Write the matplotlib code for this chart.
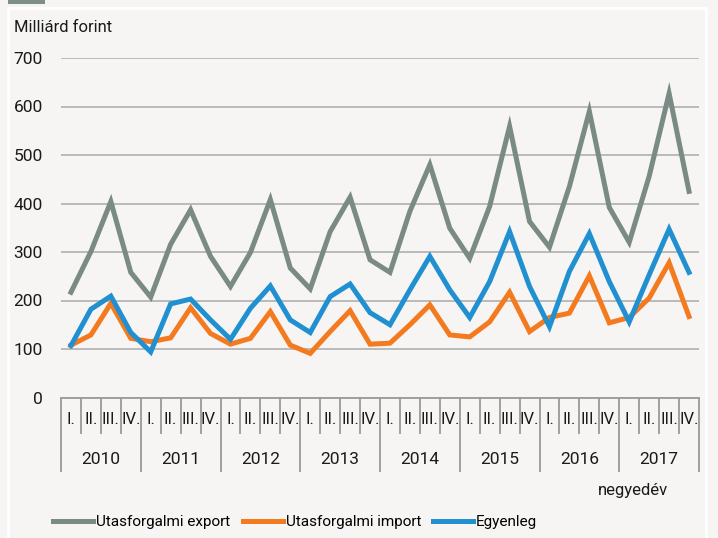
import matplotlib
matplotlib.use("Agg")
import matplotlib.pyplot as plt
from matplotlib.lines import Line2D
from matplotlib.patches import Rectangle

years = ["2010", "2011", "2012", "2013", "2014", "2015", "2016", "2017"]
quarters = ["I.", "II.", "III.", "IV."]

export = [217, 301, 404, 258, 207, 316, 387, 291,
          229, 299, 408, 267, 224, 342, 413, 284,
          258, 384, 480, 349, 287, 394, 559, 363,
          310, 435, 590, 392, 320, 456, 627, 425]
imports = [108, 129, 194, 122, 115, 123, 185, 132,
           110, 122, 177, 108, 91, 136, 179, 110,
           112, 150, 191, 129, 125, 156, 217, 136,
           165, 174, 251, 154, 165, 205, 278, 167]
balance = [107, 182, 209, 134, 94, 193, 203, 160,
           120, 184, 230, 160, 134, 208, 234, 175,
           150, 222, 291, 222, 165, 239, 342, 229,
           146, 260, 338, 239, 156, 253, 347, 258]
labels = ["Utasforgalmi export", "Utasforgalmi import", "Egyenleg"]

plt.rcParams['font.family'] = ['Roboto', 'DejaVu Sans']

W, H = 718, 538
bg = "#f6f5f3"
fig = plt.figure(figsize=(W / 100, H / 100), dpi=100, facecolor=bg)

# frame
fig.patches.append(Rectangle((8 / W, -0.01), (706 - 8) / W, 1 - 8 / H + 0.01,
                             transform=fig.transFigure, fill=False,
                             edgecolor="white", linewidth=2))
fig.patches.append(Rectangle((8 / W, 1 - 4 / H), 37 / W, 4 / H,
                             transform=fig.transFigure, facecolor="#7d8f87",
                             edgecolor="none"))

left, right = 61 / W, 699 / W
bottom, top = 1 - 397.5 / H, 1 - 58 / H
ax = fig.add_axes([left, bottom, right - left, top - bottom])
ax.set_facecolor(bg)

n = len(export)
x = list(range(n))
c_exp, c_imp, c_bal = "#7a8a84", "#f47a20", "#2190d0"
lw = 3.6
l1, = ax.plot(x, export, color=c_exp, lw=lw, solid_joinstyle="miter", zorder=3)
l2, = ax.plot(x, imports, color=c_imp, lw=lw, solid_joinstyle="miter", zorder=4)
l3, = ax.plot(x, balance, color=c_bal, lw=lw, solid_joinstyle="miter", zorder=5)

ax.set_xlim(-0.5, n - 0.5)
ax.set_ylim(0, 700)
ax.set_yticks(range(0, 701, 100))
ax.tick_params(axis="y", length=0, pad=13, labelsize=12.5, labelcolor="#1a1a1a")
for s in ["top", "right", "left"]:
    ax.spines[s].set_visible(False)
ax.spines["bottom"].set_color("#9a9a9a")
ax.spines["bottom"].set_linewidth(1.3)
ax.grid(axis="y", color="#b5b5b5", linewidth=1.3)
ax.set_axisbelow(True)

# x-axis: quarter separators (short) and year separators (long)
ax.set_xticks([k - 0.5 for k in range(n + 1) if k % 4 == 0])
ax.set_xticks([k - 0.5 for k in range(n + 1) if k % 4 != 0], minor=True)
ax.tick_params(axis="x", which="major", length=53.5, width=1.3, color="#9a9a9a",
               labelbottom=False)
ax.tick_params(axis="x", which="minor", length=26, width=1.3, color="#9a9a9a",
               labelbottom=False)

tr = ax.get_xaxis_transform()
qy = -(420 - 397.5) / (397.5 - 58)
yy = -(459 - 397.5) / (397.5 - 58)
for i in range(n):
    ax.text(i, qy, quarters[i % 4], transform=tr, ha="center", va="center",
            fontsize=12, color="#1a1a1a")
for j, yr in enumerate(years):
    ax.text(4 * j + 1.5, yy, yr, transform=tr, ha="center", va="center",
            fontsize=12.5, color="#1a1a1a")

fig.text(14 / W, 1 - 27 / H, "Milliárd forint", ha="left", va="center",
         fontsize=12, color="#1a1a1a")
fig.text(668 / W, 1 - 490 / H, "negyedév", ha="right", va="center",
         fontsize=12, color="#1a1a1a")

for line, lab, x0 in zip([l1, l2, l3], labels, [53, 243, 433]):
    fig.legend([Line2D([], [], color=line.get_color(), lw=lw)], [lab],
               loc="center left", bbox_to_anchor=(x0 / W, 1 - 522 / H),
               frameon=False, fontsize=11, handlelength=2.65,
               handletextpad=0.15, borderaxespad=0, borderpad=0)

fig.savefig("out.png", dpi=100, facecolor=bg)
